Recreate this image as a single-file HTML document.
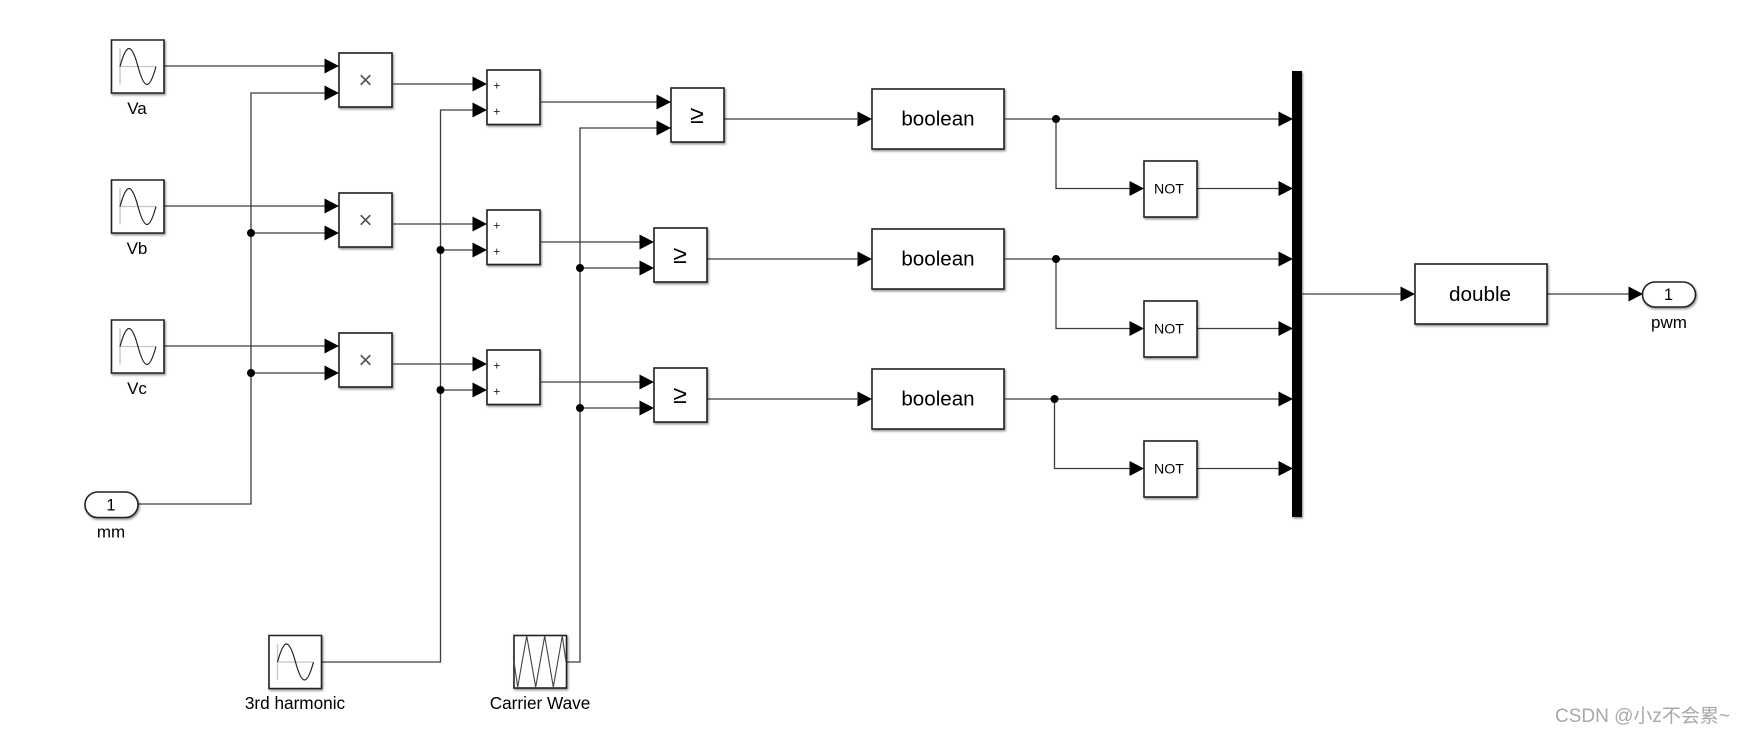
<!DOCTYPE html>
<html><head><meta charset="utf-8"><style>
html,body{margin:0;padding:0;background:#fff;width:1746px;height:734px;overflow:hidden}
svg{display:block}
text{font-family:"Liberation Sans","Noto Sans CJK SC",sans-serif;fill:#000}
.b{fill:#fff;stroke:#222;stroke-width:1.6;filter:url(#s)}
.l{fill:none;stroke:#3c3c3c;stroke-width:1.3}
.a{fill:#000}
.c{text-anchor:middle}
</style></head><body>
<svg width="1746" height="734" viewBox="0 0 1746 734" xmlns="http://www.w3.org/2000/svg">
<defs>
<filter id="s" x="-20%" y="-20%" width="145%" height="145%"><feDropShadow dx="1" dy="1.5" stdDeviation="1" flood-color="#000" flood-opacity=".45"/></filter>
<filter id="soft" filterUnits="userSpaceOnUse" x="0" y="0" width="1746" height="734"><feGaussianBlur stdDeviation="0.35"/></filter>
<polygon id="ar" class="a" points="-14.500,-7.500 0,0 -14.500,7.500"/>
<g id="sine">
<path d="M-26,-26.500h52.500v53h-52.500z" class="b"/>
<path d="M-17.500,-18V18M-17.500,0H18" fill="none" stroke="#c4c4c4" stroke-width="1.3"/>
<path d="M-17.500,0C-14.500,-11 -11.500,-18 -8.500,-18C-5.500,-18 -2.500,-11 .5,0C3.500,11 6.500,18 9.500,18C12.500,18 15.500,11 18.500,0" fill="none" stroke="#222" stroke-width="1.2"/>
</g>
<g id="row">
<!-- product -->
<rect class="b" x="339" y="53" width="53" height="54"/>
<text class="c" x="365.500" y="88" font-size="24" style="fill:#555">×</text>
<path class="l" d="M164,66H326M392,84H474"/>
<use href="#ar" x="339" y="66"/><use href="#ar" x="339" y="93"/><use href="#ar" x="487" y="84"/><use href="#ar" x="487" y="110"/>
<!-- sum -->
<rect class="b" x="487" y="70" width="53" height="54.500"/>
<text class="c" x="496.700" y="89.500" font-size="12" style="fill:#222">+</text>
<text class="c" x="496.700" y="115.500" font-size="12" style="fill:#222">+</text>
<!-- boolean -->
<rect class="b" x="872" y="89" width="132" height="60"/>
<text class="c" x="938" y="125.500" font-size="20.600">boolean</text>
<use href="#ar" x="872" y="119"/>
<path class="l" d="M1004,119H1280M1197,188.500H1280M1131,188.500H1100"/>
<rect class="b" x="1144" y="161" width="53" height="56"/>
<text class="c" x="1169" y="193.500" font-size="14.200">NOT</text>
<use href="#ar" x="1144" y="188.500"/><use href="#ar" x="1293" y="119"/><use href="#ar" x="1293" y="188.500"/>
</g>
<g id="rel">
<rect class="b" x="0" y="0" width="53" height="54"/>
<text class="c" x="26" y="35" font-size="25">≥</text>
</g>
</defs>
<rect width="1746" height="734" fill="#fff"/>
<g filter="url(#soft)">
<!-- vertical buses -->
<path class="l" d="M325,93H251V504H138M325,233H251M325,373H251"/>
<path class="l" d="M474,110H440.500V662H322M474,250H440.500M474,390H440.500"/>
<path class="l" d="M657,128H580V662H566M641,268H580M641,408H580"/>

<use href="#row"/><use href="#row" y="140"/><use href="#row" y="280"/>

<!-- boolean branch to NOT -->
<path class="l" d="M1056,119V188.500H1100M1056,259V328.500H1100M1054.500,399V468.500H1100"/>
<circle class="a" cx="1056" cy="119" r="4"/><circle class="a" cx="1056" cy="259" r="4"/><circle class="a" cx="1054.500" cy="399" r="4"/>

<use href="#sine" x="137.500" y="66.500"/><use href="#sine" x="137.500" y="206.500"/><use href="#sine" x="137.500" y="346.500"/>
<text class="c" x="137" y="114" font-size="17">Va</text>
<text class="c" x="137" y="254" font-size="17">Vb</text>
<text class="c" x="137" y="394" font-size="17">Vc</text>

<circle class="a" cx="251" cy="233" r="4"/><circle class="a" cx="251" cy="373" r="4"/>
<circle class="a" cx="440.500" cy="250" r="4"/><circle class="a" cx="440.500" cy="390" r="4"/>
<circle class="a" cx="580" cy="268" r="4"/><circle class="a" cx="580" cy="408" r="4"/>

<!-- relational lines -->
<path class="l" d="M540,102H658M540,242H642M540,382H642M724,119H859M707,259H859M707,399H859"/>
<use href="#rel" x="671" y="88"/><use href="#rel" x="654" y="228"/><use href="#rel" x="654" y="368"/>
<use href="#ar" x="671" y="102"/><use href="#ar" x="671" y="128"/>
<use href="#ar" x="654" y="242"/><use href="#ar" x="654" y="268"/>
<use href="#ar" x="654" y="382"/><use href="#ar" x="654" y="408"/>

<!-- mm inport -->
<rect class="b" x="85" y="492" width="53" height="25.500" rx="12.700"/>
<text class="c" x="111" y="510.500" font-size="16.500">1</text>
<text class="c" x="111" y="537.500" font-size="17">mm</text>

<!-- 3rd harmonic -->
<use href="#sine" x="295" y="662"/>
<text class="c" x="295" y="709" font-size="17.200">3rd harmonic</text>

<!-- carrier -->
<rect class="b" x="514" y="635.500" width="52.500" height="52.500"/>
<path d="M514,662L517.700,687L526.700,636L535.700,687L544.700,636L553.300,687L562.300,636L566,662" fill="none" stroke="#444" stroke-width="1.100"/>
<text class="c" x="540" y="709" font-size="17.200">Carrier Wave</text>

<!-- mux -->
<rect x="1292" y="71" width="10" height="446" fill="#000" filter="url(#s)"/>
<path class="l" d="M1302,294H1402M1547,294H1630"/>
<use href="#ar" x="1415" y="294"/>
<rect class="b" x="1415" y="264" width="132" height="60"/>
<text class="c" x="1480" y="301" font-size="20.700">double</text>
<use href="#ar" x="1643" y="294"/>
<rect class="b" x="1642.500" y="282" width="53" height="25" rx="12.500"/>
<text class="c" x="1668.500" y="300" font-size="16.500">1</text>
<text class="c" x="1669" y="328" font-size="17">pwm</text>

<text x="1555" y="722" font-size="19" style="fill:#a8a8a8">CSDN @小z不会累~</text>
</g>
</svg>
</body></html>
